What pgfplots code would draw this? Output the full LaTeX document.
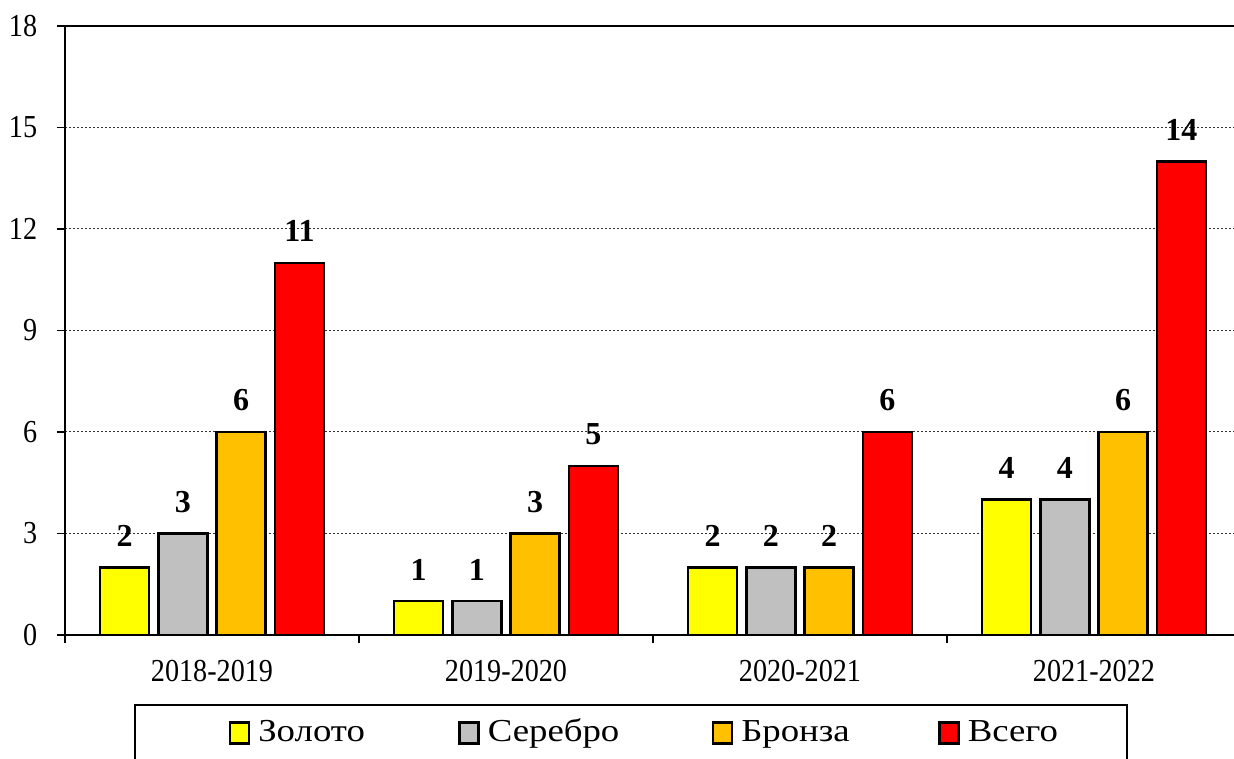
\documentclass[border=0pt]{standalone}
\usepackage{fontspec}
\setmainfont{Liberation Serif}
\newfontfamily\tickfont[FakeStretch=0.88]{Liberation Serif}
\newfontfamily\legfont[FakeStretch=1.15]{Liberation Serif}
\usepackage{pgfplots}
\pgfplotsset{compat=1.18}
\definecolor{cgold}{HTML}{FFFF00}
\definecolor{csilver}{HTML}{C0C0C0}
\definecolor{cbronze}{HTML}{FFC000}
\definecolor{ctotal}{HTML}{FF0000}
\begin{document}
\rmfamily\fontsize{32}{38}\selectfont
\begin{tikzpicture}
\useasboundingbox (0,0) rectangle (1234pt,758pt);
\clip (0,0) rectangle (1234pt,758pt);
\begin{axis}[
  at={(65pt,123pt)}, anchor=south west,
  scale only axis, width=1176pt, height=609pt,
  xmin=-0.5, xmax=3.5, ymin=0, ymax=18,
  ytick={0,3,...,18},
  xtick={-0.5,0.5,1.5,2.5,3.5},
  xticklabels={},
  extra x ticks={0,1,2,3},
  extra x tick labels={2018-2019,2019-2020,2020-2021,2021-2022},
  extra x tick style={major tick length=0pt, grid=none,
    xticklabel style={yshift=-14pt}},
  xtick pos=left, ytick pos=left,
  tick align=outside, major tick length=8pt,
  tick style={line width=1.5pt, black},
  tick label style={font=\tickfont\fontsize{32}{38}\selectfont},
  yticklabel style={xshift=-9pt},
  axis line style={line width=2.5pt},
  ymajorgrids,
  major grid style={dash pattern=on 2pt off 2pt, line width=1pt, black!80},
  /pgf/number format/assume math mode=true,
  ybar=9.3pt, bar width=49pt,
  nodes near coords,
  every node near coord/.append style={font=\rmfamily\bfseries\fontsize{32}{38}\selectfont, anchor=base, yshift=21pt},
  legend columns=4,
  legend style={at={(0.0587,-0.1133)}, anchor=north west,
    font=\legfont\fontsize{32}{38}\selectfont,
    draw=black, line width=1.5pt, inner xsep=0pt, inner ysep=14pt,
    nodes={inner sep=0pt}, cells={anchor=base west},
    /tikz/every odd column/.append style={column sep=8pt},
    /tikz/every even column/.append style={column sep=0pt}},
  legend image code/.code={\draw[#1, line width=2.5pt] (0pt,-2pt) rectangle (19pt,19pt);},
]
\addplot[fill=cgold, draw=black, line width=2.5pt,
  legend image code/.code={\path (-94pt,0pt); \draw[fill=cgold, draw=black, line width=2.5pt] (0pt,-2pt) rectangle (19pt,19pt);}]
  coordinates {(0,2) (1,1) (2,2) (3,4)};
\addlegendentry{\makebox[200pt][l]{Золото}}
\addplot[fill=csilver, draw=black, line width=2.5pt]
  coordinates {(0,3) (1,1) (2,2) (3,4)};
\addlegendentry{\makebox[224pt][l]{Серебро}}
\addplot[fill=cbronze, draw=black, line width=2.5pt]
  coordinates {(0,6) (1,3) (2,2) (3,6)};
\addlegendentry{\makebox[197pt][l]{Бронза}}
\addplot[fill=ctotal, draw=black, line width=2.5pt]
  coordinates {(0,11) (1,5) (2,6) (3,14)};
\addlegendentry{\makebox[159pt][l]{Всего}}
\end{axis}
\end{tikzpicture}
\end{document}
